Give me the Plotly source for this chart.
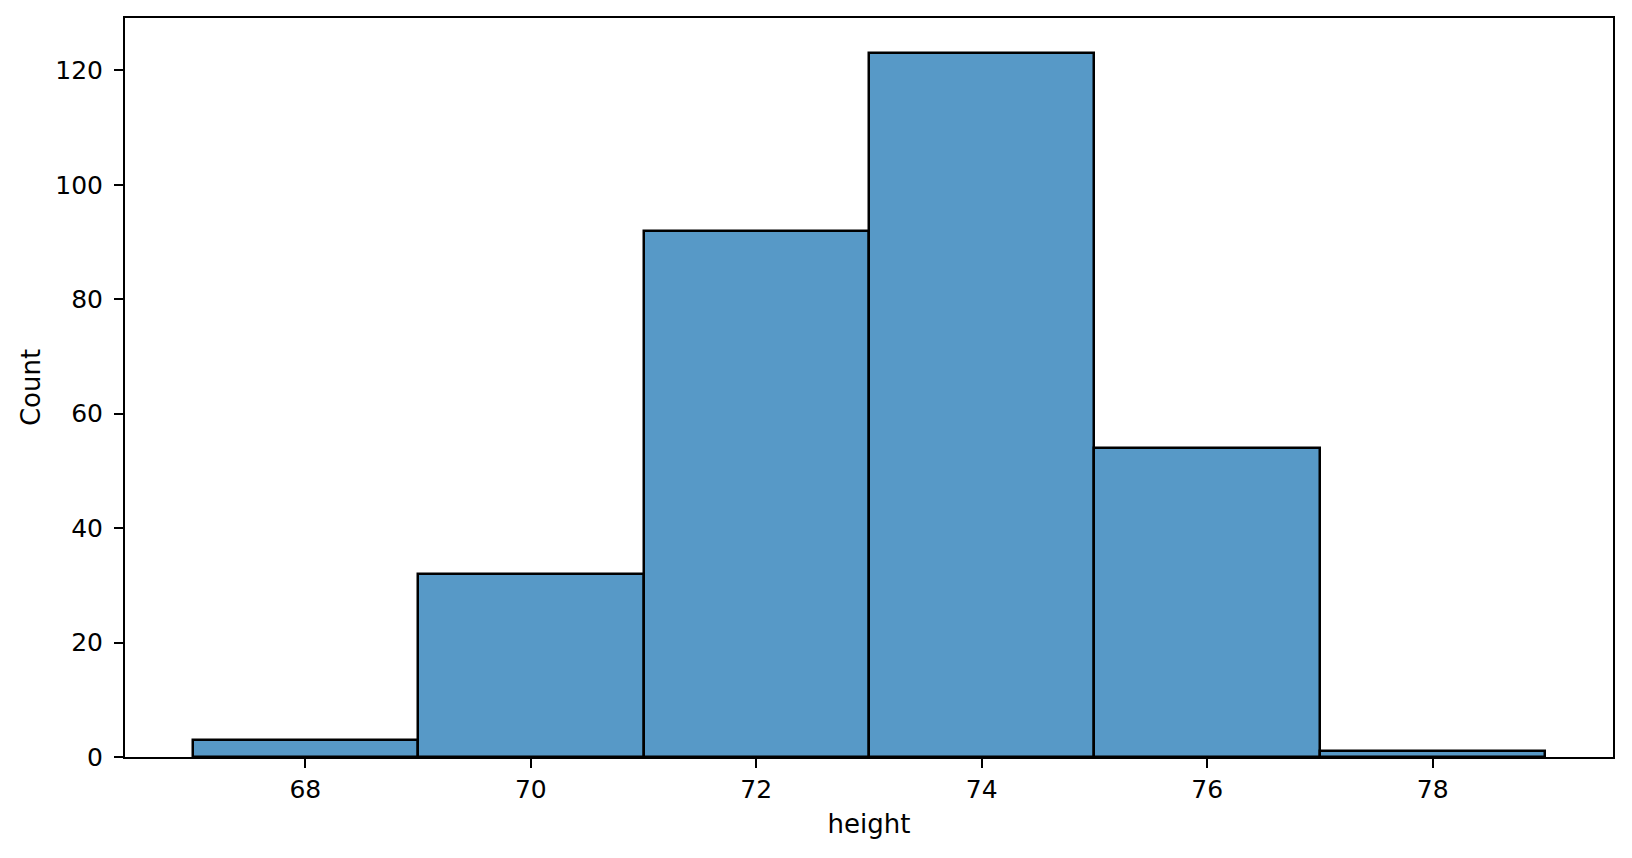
import plotly.graph_objects as go

# histogram bins (height) and counts per bin
bin_edges = [67, 69, 71, 73, 75, 77, 79]
counts = [3, 32, 92, 123, 54, 1]

x_ticks = [68, 70, 72, 74, 76, 78]
y_ticks = [0, 20, 40, 60, 80, 100, 120]

centers = [(a + b) / 2 for a, b in zip(bin_edges[:-1], bin_edges[1:])]
widths = [b - a for a, b in zip(bin_edges[:-1], bin_edges[1:])]

fig = go.Figure()
fig.add_trace(go.Bar(
    x=centers,
    y=counts,
    width=widths,
    marker=dict(color="#5799c7", line=dict(color="black", width=2.5)),
    showlegend=False,
))

axis_style = dict(
    showline=True, linecolor="black", linewidth=2, mirror=True,
    ticks="outside", ticklen=9, tickwidth=2, tickcolor="black",
    showgrid=False, zeroline=False,
    tickfont=dict(size=25, color="black"),
)

# page body has an 8px margin, so the figure is a bit smaller than the window
fig.update_layout(
    width=1616, height=842,
    margin=dict(l=117, r=11, t=9.5, b=93.3),
    plot_bgcolor="white", paper_bgcolor="white",
    font=dict(family="DejaVu Sans", size=25, color="black"),
    bargap=0,
    xaxis=dict(range=[66.4, 79.6], tickvals=x_ticks, automargin=False,
               title=dict(text="height", standoff=12, font=dict(size=26)),
               **axis_style),
    yaxis=dict(range=[0, 129.15], tickvals=y_ticks, automargin=False,
               ticklabelstandoff=6,
               title=dict(text="Count", standoff=7, font=dict(size=26)),
               **axis_style),
)

fig.write_html("out.html")
